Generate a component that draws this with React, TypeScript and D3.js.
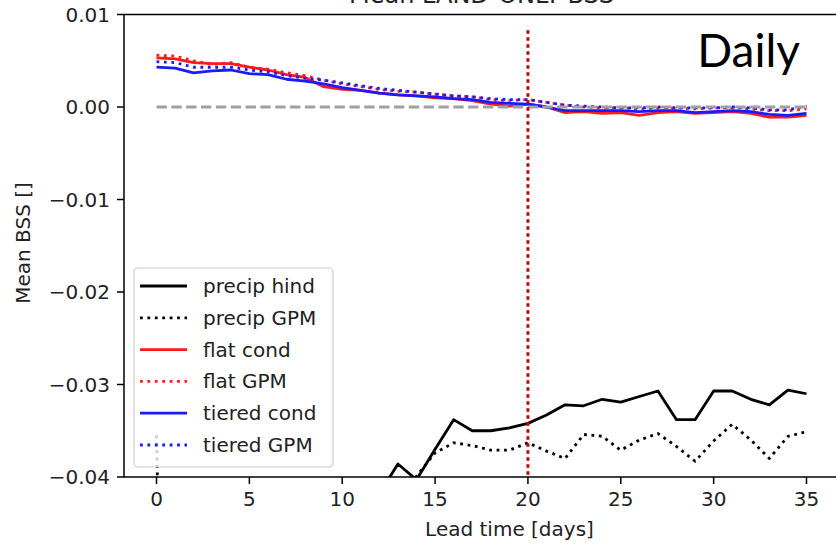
import React from "react";
import * as d3 from "d3";

// lead time in days
const leadDays = d3.range(0, 36);

// mean BSS per lead day
const precipHind = [
  -0.052, -0.051, -0.05, -0.049, -0.048, -0.047, -0.047, -0.046, -0.045, -0.044, -0.044, -0.043,
  -0.0418, -0.0386, -0.0403, -0.037, -0.0338, -0.035, -0.035, -0.0347, -0.0342, -0.0333, -0.0322,
  -0.0323, -0.0316, -0.0319, -0.0313, -0.0307, -0.0338, -0.0338, -0.0307, -0.0307, -0.0316,
  -0.0322, -0.0306, -0.031,
];
const precipGPM = [
  -0.0355, -0.13, -0.09, -0.08, -0.075, -0.07, -0.066, -0.062, -0.058, -0.055, -0.052, -0.05,
  -0.048, -0.046, -0.0399, -0.0374, -0.0363, -0.0366, -0.0371, -0.0371, -0.0363, -0.0372, -0.038,
  -0.0354, -0.0356, -0.0371, -0.036, -0.0353, -0.0367, -0.0383, -0.0361, -0.0343, -0.036, -0.038,
  -0.0356, -0.0351,
];
const flatCond = [
  0.0053, 0.0052, 0.0048, 0.0047, 0.0047, 0.0043, 0.004, 0.0035, 0.0032, 0.0022, 0.0019, 0.0018,
  0.0015, 0.0013, 0.0012, 0.001, 0.0009, 0.0007, 0.0003, 0.0001, 0.0003, 0.0, -0.0006, -0.0005,
  -0.0007, -0.0006, -0.0009, -0.0006, -0.0005, -0.0007, -0.0006, -0.0005, -0.0007, -0.0011,
  -0.0011, -0.0009,
];
const flatGPM = [
  0.0056, 0.0055, 0.005, 0.0046, 0.0048, 0.0043, 0.0041, 0.0037, 0.0034, 0.0029, 0.0025, 0.0022,
  0.0019, 0.0017, 0.0016, 0.0014, 0.0012, 0.0011, 0.0008, 0.0007, 0.0008, 0.0005, 0.0002, 0.0,
  -0.0001, -0.0001, -0.0002, -0.0001, -0.0001, -0.0002, -0.0001, -0.0001, -0.0002, -0.0004,
  -0.0004, -0.0002,
];
const tieredCond = [
  0.0043, 0.0042, 0.0037, 0.0039, 0.004, 0.0036, 0.0035, 0.003, 0.0028, 0.0025, 0.0021, 0.0018,
  0.0015, 0.0013, 0.0012, 0.0011, 0.0009, 0.0008, 0.0005, 0.0004, 0.0003, 0.0, -0.0004, -0.0004,
  -0.0004, -0.0004, -0.0005, -0.0004, -0.0004, -0.0006, -0.0005, -0.0004, -0.0005, -0.0008,
  -0.0009, -0.0007,
];
const tieredGPM = [
  0.0049, 0.0048, 0.0043, 0.0043, 0.0043, 0.004, 0.0038, 0.0034, 0.0031, 0.0029, 0.0026, 0.0023,
  0.002, 0.0018, 0.0016, 0.0014, 0.0012, 0.0011, 0.0009, 0.0008, 0.0008, 0.0005, 0.0002, 0.0001,
  0.0, -0.0001, -0.0001, 0.0, -0.0001, -0.0001, -0.0001, 0.0, -0.0001, -0.0003, -0.0003, 0.0001,
];

const xTicks = [0, 5, 10, 15, 20, 25, 30, 35];
const yTicks = [0.01, 0.0, -0.01, -0.02, -0.03, -0.04];
const splitDay = 20;

const series = [
  { name: "precip hind", values: precipHind, color: "#000000", dotted: false },
  { name: "precip GPM", values: precipGPM, color: "#000000", dotted: true },
  { name: "flat cond", values: flatCond, color: "#ff1a1a", dotted: false },
  { name: "flat GPM", values: flatGPM, color: "#ff1a1a", dotted: true },
  { name: "tiered cond", values: tieredCond, color: "#1a1aff", dotted: false },
  { name: "tiered GPM", values: tieredGPM, color: "#1a1aff", dotted: true },
];

const W = 836;
const H = 546;
const left = 124;
const right = 839;
const top = 14.5;
const bottom = 477;
const lw = 2.8;
const font = "DejaVu Sans, sans-serif";

export default function App() {
  const x = d3.scaleLinear().domain([-1.75, 36.75]).range([left, right]);
  const y = d3.scaleLinear().domain([-0.04, 0.01]).range([bottom, top]);

  const line = d3
    .line<number>()
    .x((_, i) => x(leadDays[i]))
    .y((d) => y(d));

  const fmt = (v: number) => d3.format(".2f")(v).replace("-", "\u2212");

  return (
    <svg width={W} height={H} style={{ position: "absolute", left: 0, top: 0, background: "#fff" }}>
      <defs>
        <clipPath id="plot">
          <rect x={left} y={top} width={right - left} height={bottom - top} />
        </clipPath>
      </defs>

      <text x={(left + right) / 2} y={3} textAnchor="middle" fontFamily={font} fontSize={24} fill="#222">
        Mean LAND-ONLY BSS
      </text>

      <g clipPath="url(#plot)">
        {series.map((s) => (
          <path
            key={s.name}
            d={line(s.values) ?? ""}
            fill="none"
            stroke={s.color}
            strokeWidth={lw}
            strokeDasharray={s.dotted ? `${lw} ${lw * 1.65}` : undefined}
            strokeLinejoin="round"
          />
        ))}
        <line
          x1={x(0)}
          x2={x(35)}
          y1={y(0)}
          y2={y(0)}
          stroke="#a0a0a0"
          strokeWidth={lw}
          strokeDasharray={`${lw * 3.7} ${lw * 1.6}`}
        />
        <line
          x1={x(splitDay)}
          x2={x(splitDay)}
          y1={y(0.0083)}
          y2={y(-0.04)}
          stroke="#c00000"
          strokeWidth={3}
          strokeDasharray="3.5 3.5"
        />
      </g>

      {/* spines */}
      <g stroke="#000" strokeWidth={1.5} fill="none">
        <line x1={left} x2={left} y1={top} y2={bottom} />
        <line x1={left} x2={right} y1={bottom} y2={bottom} />
        <line x1={left} x2={right} y1={top} y2={top} />
        <line x1={right} x2={right} y1={top} y2={bottom} />
      </g>

      {/* y axis */}
      {yTicks.map((t) => (
        <g key={t}>
          <line x1={left - 7} x2={left} y1={y(t)} y2={y(t)} stroke="#000" strokeWidth={1.5} />
          <text
            x={left - 14}
            y={y(t)}
            textAnchor="end"
            dominantBaseline="central"
            fontFamily={font}
            fontSize={20}
            fill="#222"
          >
            {fmt(t)}
          </text>
        </g>
      ))}

      {/* x axis */}
      {xTicks.map((t) => (
        <g key={t}>
          <line x1={x(t)} x2={x(t)} y1={bottom} y2={bottom + 7} stroke="#000" strokeWidth={1.5} />
          <text
            x={x(t)}
            y={bottom + 14}
            textAnchor="middle"
            dominantBaseline="hanging"
            fontFamily={font}
            fontSize={20}
            fill="#222"
          >
            {t}
          </text>
        </g>
      ))}

      <text x={(left + right) / 2 + 28} y={536} textAnchor="middle" fontFamily={font} fontSize={20} fill="#222">
        Lead time [days]
      </text>
      <text
        transform={`translate(30, 243) rotate(-90)`}
        textAnchor="middle"
        fontFamily={font}
        fontSize={20}
        fill="#222"
      >
        Mean BSS []
      </text>

      {/* legend */}
      <g>
        <rect x={134} y={268} width={199} height={199} rx={4} fill="#fff" fillOpacity={0.8} stroke="#ccc" strokeWidth={1.2} />
        {series.map((s, i) => {
          const cy = 286 + i * 31.8;
          return (
            <g key={s.name}>
              <line
                x1={140}
                x2={187}
                y1={cy}
                y2={cy}
                stroke={s.color}
                strokeWidth={lw}
                strokeDasharray={s.dotted ? `${lw} ${lw * 1.65}` : undefined}
              />
              <text x={203} y={cy} dominantBaseline="central" fontFamily={font} fontSize={20} fill="#222">
                {s.name}
              </text>
            </g>
          );
        })}
      </g>

      <text x={800} y={67} textAnchor="end" fontFamily="Lato, sans-serif" fontSize={46} fill="#000">
        Daily
      </text>
    </svg>
  );
}
